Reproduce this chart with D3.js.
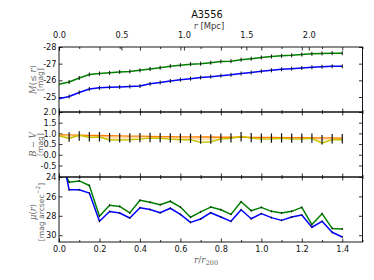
<!DOCTYPE html>
<html><head><meta charset="utf-8">
<script src="https://cdn.jsdelivr.net/npm/d3@7"></script>
<style>body{margin:0;background:#fff}svg{display:block}</style></head>
<body><svg id="c" width="374" height="280"></svg>
<script>
// ---------------- data ----------------
const rr = [0,0.05,0.1,0.15,0.2,0.25,0.3,0.35,0.4,0.45,0.5,0.55,0.6,0.65,0.7,0.75,0.8,0.85,0.9,0.95,1.0,1.05,1.1,1.15,1.2,1.25,1.3,1.35,1.4];
const magG = [-25.77,-25.9,-26.14,-26.35,-26.41,-26.45,-26.5,-26.53,-26.6,-26.68,-26.76,-26.85,-26.91,-26.97,-27.0,-27.06,-27.13,-27.15,-27.24,-27.3,-27.37,-27.43,-27.47,-27.5,-27.55,-27.59,-27.61,-27.63,-27.63];
const magB = [-24.9,-25.03,-25.27,-25.48,-25.55,-25.58,-25.6,-25.63,-25.66,-25.79,-25.87,-25.96,-26.04,-26.1,-26.17,-26.22,-26.28,-26.33,-26.41,-26.47,-26.54,-26.6,-26.66,-26.7,-26.74,-26.78,-26.82,-26.84,-26.84];
const magErr = [0,0.12,0.12,0.12,0.12,0.12,0.12,0.12,0.12,0.12,0.12,0.12,0.12,0.12,0.12,0.12,0.12,0.12,0.12,0.12,0.12,0.12,0.12,0.12,0.12,0.12,0.12,0.12,0.12];
const bvOrange = [0.93,0.93,0.92,0.91,0.9,0.89,0.88,0.87,0.87,0.86,0.85,0.85,0.84,0.84,0.83,0.83,0.82,0.82,0.82,0.81,0.81,0.81,0.8,0.8,0.8,0.79,0.79,0.79,0.78];
const bvYellow = [0.89,0.76,0.92,0.81,0.83,0.69,0.69,0.7,0.73,0.78,0.77,0.73,0.7,0.7,0.58,0.61,0.73,0.77,0.86,0.78,0.73,0.73,0.77,0.73,0.73,0.77,0.55,0.7,0.7];
const bvCenter = [0.9,0.83,0.88,0.84,0.84,0.8,0.79,0.79,0.8,0.81,0.8,0.79,0.77,0.77,0.73,0.74,0.78,0.79,0.84,0.8,0.78,0.78,0.79,0.78,0.78,0.78,0.7,0.75,0.75];
const bvErr = [0,0.22,0.22,0.22,0.22,0.22,0.22,0.22,0.22,0.22,0.22,0.22,0.22,0.22,0.22,0.22,0.22,0.22,0.22,0.22,0.22,0.22,0.22,0.22,0.22,0.22,0.22,0.22,0.22];
const muG = [22.4,24.53,24.4,24.88,28.05,26.9,27.03,27.7,26.4,26.6,26.86,26.5,27.1,28.15,27.6,27.1,27.37,27.85,26.55,27.47,27.13,27.54,27.71,27.54,27.13,28.9,27.78,29.3,29.36];
const muB = [20.2,25.32,25.32,25.66,28.57,27.56,27.71,28.23,27.16,27.35,27.68,27.22,27.85,28.68,28.33,27.68,28.12,28.57,27.37,28.3,27.78,28.19,28.47,28.12,27.92,29.18,28.57,29.7,30.18];
const muErr = [0,0.1,0.1,0.1,0.1,0.1,0.1,0.1,0.1,0.1,0.1,0.1,0.1,0.1,0.1,0.1,0.1,0.1,0.1,0.1,0.1,0.1,0.1,0.1,0.1,0.1,0.1,0.1,0.1];
const r200 = 1.62;
const xTickLabels = [0,0.2,0.4,0.6,0.8,1.0,1.2,1.4];
const xMinorTicks = [0.1,0.3,0.5,0.7,0.9,1.1,1.3,1.5];
const mpcTicks = [0,0.5,1.0,1.5,2.0];
const magTicks = [-28,-27,-26,-25];
const bvTicks = [2.0,1.5,1.0,0.5,0.0,-0.5];
const muTicks = [24,26,28,30];

// ---------------- layout ----------------
const svg = d3.select('#c');
const L = 59, R = 362.5;
const x = d3.scaleLinear([0,1.5],[L,R]);
const xm = d3.scaleLinear([0,1.5*r200],[L,R]);
const panels = [
  {top:47, bot:112, dom:[-28,-24.1], ticks:magTicks, fmt:d=>d3.format(".0f")(d).replace('\u2212','-')},
  {top:112, bot:177, dom:[2.0,-1.04], ticks:bvTicks, fmt:d=>d3.format(".1f")(d).replace('\u2212','-')},
  {top:177, bot:242, dom:[24,30.7], ticks:muTicks, fmt:d=>d3.format(".0f")(d)}
];
panels.forEach((p,i)=>{ p.y = d3.scaleLinear(p.dom,[p.top,p.bot]); p.id='clip'+i; });
const defs = svg.append('defs');
panels.forEach(p=>{
  defs.append('clipPath').attr('id',p.id).append('rect')
    .attr('x',L).attr('y',p.top).attr('width',R-L).attr('height',p.bot-p.top);
});
const FONT = "'DejaVu Sans', sans-serif";
function styleAxis(g, showText){
  g.select('.domain').remove();
  g.selectAll('.tick line').attr('stroke','#000').attr('stroke-width',0.8);
  g.selectAll('.tick text').attr('font-family',FONT).attr('font-size',8.2).attr('fill','#111');
  if(!showText) g.selectAll('.tick text').remove();
}
const MAJ = -3.5, MIN = -2;

panels.forEach((p,i)=>{
  svg.append('g').attr('transform',`translate(${L},0)`)
    .call(d3.axisLeft(p.y).tickValues(p.ticks).tickFormat(p.fmt).tickSizeInner(MAJ).tickSizeOuter(0).tickPadding(2.5))
    .call(g=>styleAxis(g,true));
  svg.append('g').attr('transform',`translate(${R},0)`)
    .call(d3.axisRight(p.y).tickValues(p.ticks).tickSizeInner(MAJ).tickSizeOuter(0))
    .call(g=>styleAxis(g,false));
  svg.append('g').attr('transform',`translate(0,${p.bot})`)
    .call(d3.axisBottom(x).tickValues(xTickLabels).tickFormat(d3.format(".1f")).tickSizeInner(MAJ).tickSizeOuter(0).tickPadding(4))
    .call(g=>styleAxis(g,i===2));
  svg.append('g').attr('transform',`translate(0,${p.bot})`)
    .call(d3.axisBottom(x).tickValues(xMinorTicks).tickSizeInner(MIN).tickSizeOuter(0))
    .call(g=>styleAxis(g,false));
  svg.append('g').attr('transform',`translate(0,${p.top})`)
    .call(d3.axisTop(x).tickValues(xTickLabels).tickSizeInner(MAJ).tickSizeOuter(0))
    .call(g=>styleAxis(g,false));
  svg.append('g').attr('transform',`translate(0,${p.top})`)
    .call(d3.axisTop(x).tickValues(xMinorTicks).tickSizeInner(MIN).tickSizeOuter(0))
    .call(g=>styleAxis(g,false));
});
svg.append('g').attr('transform',`translate(0,${panels[0].top})`)
  .call(d3.axisTop(xm).tickValues(mpcTicks).tickFormat(d3.format(".1f")).tickSizeInner(MAJ).tickSizeOuter(0).tickPadding(9.5))
  .call(g=>styleAxis(g,true));

// ---------------- marks ----------------
function series(p, vals, color, w, op){
  const line = d3.line().x((d,i)=>x(rr[i])).y(d=>p.y(d));
  svg.append('path').datum(vals).attr('d',line).attr('fill','none')
    .attr('stroke',color).attr('stroke-width',w).attr('stroke-linejoin','round')
    .attr('stroke-opacity',op||1)
    .attr('clip-path',`url(#${p.id})`);
}
function errbars(p, vals, errs, w){
  const pts = vals.map((v,i)=>({r:rr[i], v:v, e:errs[i]})).filter(d=>d.e>0);
  svg.append('g').attr('clip-path',`url(#${p.id})`).selectAll('line').data(pts).join('line')
    .attr('x1',d=>x(d.r)).attr('x2',d=>x(d.r))
    .attr('y1',d=>p.y(d.v-d.e)).attr('y2',d=>p.y(d.v+d.e))
    .attr('stroke','#111').attr('stroke-width',w);
}
const P0=panels[0], P1=panels[1], P2=panels[2];
series(P0, magG, '#008000', 1.5);
series(P0, magB, '#0000ff', 1.5);
errbars(P0, magG, magErr, 1);
errbars(P0, magB, magErr, 1);

series(P1, bvCenter, '#ffd9a8', 2, 0.9);
series(P1, bvOrange, '#ff8000', 1.3);
series(P1, bvYellow, '#c4c400', 1.4);
errbars(P1, bvCenter, bvErr, 1.2);

series(P2, muG, '#008000', 1.5);
series(P2, muB, '#0000ff', 1.5);
errbars(P2, muG, muErr, 1);
errbars(P2, muB, muErr, 1);

panels.forEach(p=>{
  svg.append('rect').attr('x',L).attr('y',p.top).attr('width',R-L).attr('height',p.bot-p.top)
    .attr('fill','none').attr('stroke','#000').attr('stroke-width',0.9);
});

// ---------------- text ----------------
const SERIF = "'DejaVu Serif', 'Liberation Serif', serif";
svg.append('text').attr('x',207).attr('y',18).attr('text-anchor','middle')
  .attr('font-family',FONT).attr('font-size',9.8).attr('fill','#111').text('A3556');
const t1 = svg.append('text').attr('x',209).attr('y',28.5).attr('text-anchor','middle')
  .attr('font-family',FONT).attr('font-size',8.4).attr('fill','#333');
t1.append('tspan').attr('font-family',SERIF).attr('font-style','italic').attr('fill','#555').text('r');
t1.append('tspan').text(' [Mpc]');

function ylab(cy, build1, text2){
  const a = svg.append('text').attr('transform',`translate(32.5,${cy}) rotate(-90)`)
    .attr('text-anchor','middle').attr('dominant-baseline','central')
    .attr('font-family',SERIF).attr('font-size',8.4).attr('fill','#666');
  build1(a);
  const b = svg.append('text').attr('transform',`translate(40.5,${cy}) rotate(-90)`)
    .attr('text-anchor','middle').attr('dominant-baseline','central')
    .attr('font-family',FONT).attr('font-size',7.6).attr('fill','#666');
  text2(b);
}
ylab(79.5, a=>{
  a.append('tspan').attr('font-style','italic').text('M');
  a.append('tspan').text('(\u2264 ');
  a.append('tspan').attr('font-style','italic').text('r');
  a.append('tspan').text(')');
}, b=>b.text('[mag]'));
ylab(144.5, a=>{
  a.append('tspan').attr('font-style','italic').text('B');
  a.append('tspan').text(' \u2212 ');
  a.append('tspan').attr('font-style','italic').text('V');
}, b=>b.text('[mag]'));
ylab(212, a=>{
  a.append('tspan').attr('font-style','italic').text('\u03bc');
  a.append('tspan').text('(');
  a.append('tspan').attr('font-style','italic').text('r');
  a.append('tspan').text(')');
}, b=>{
  b.append('tspan').text('[mag arcsec');
  b.append('tspan').attr('font-size',5.8).attr('dy',-3).text('\u22122');
  b.append('tspan').attr('dy',3).text(']');
});
const xl = svg.append('text').attr('x',206).attr('y',263).attr('text-anchor','middle')
  .attr('font-family',SERIF).attr('font-size',9).attr('fill','#666');
xl.append('tspan').attr('font-style','italic').text('r');
xl.append('tspan').text('/');
xl.append('tspan').attr('font-style','italic').text('r');
xl.append('tspan').attr('font-size',6.5).attr('dy',2).text('200');
</script>
</body></html>
